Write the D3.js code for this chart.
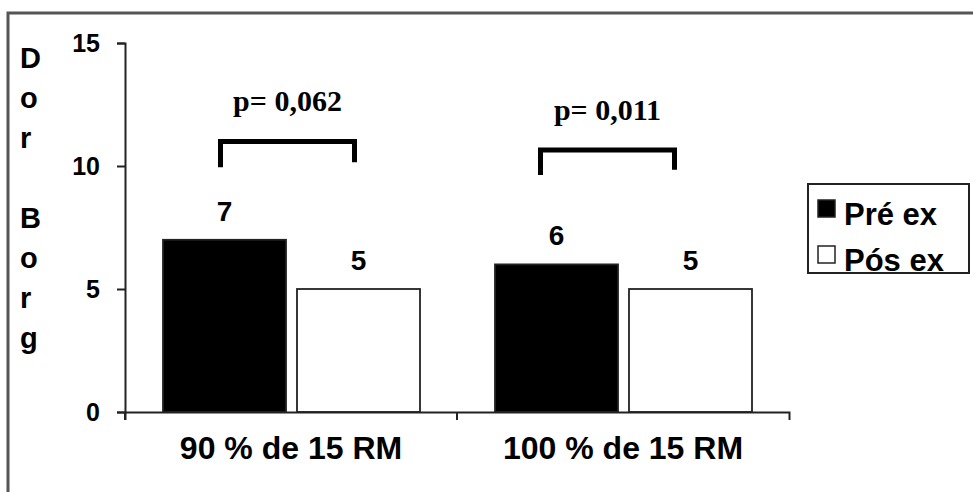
<!DOCTYPE html>
<html>
<head>
<meta charset="utf-8">
<script src="https://cdn.jsdelivr.net/npm/d3@7"></script>
<style>
    body { margin: 0; background: #fff; }
    svg { display: block; font-family: "Liberation Sans", Arial, sans-serif; font-weight: bold; }
</style>
</head>
<body>
<div id="chart"></div>
<script>
    // Dados do gráfico
    const categorias = ["90 % de 15 RM", "100 % de 15 RM"];
    const series = ["Pré ex", "Pós ex"];
    const preEx = [7, 6];
    const posEx = [5, 5];
    const yTicks = [0, 5, 10, 15];
    const yTitulo = ["D", "o", "r", "", "B", "o", "r", "g"];
    const pValores = ["p= 0,062", "p= 0,011"];
    const chaveTopo = [11.0, 10.65];      // altura da chave (unidades do eixo)
    const chavePernas = [[9.95, 10.15], [9.63, 9.85]];
    const chaveDesloc = [-4, -16];        // ajuste horizontal (px)

    const width = 973;
    const height = 492;
    const margin = { top: 43, left: 125, bottom: 80 };
    const plotRight = 789;

    const svg = d3.select("#chart")
        .append("svg")
        .attr("width", width)
        .attr("height", height);

    // Moldura externa
    svg.append("rect")
        .attr("x", 8).attr("y", 13)
        .attr("width", 980).attr("height", 500)
        .attr("fill", "none")
        .attr("stroke", "#555")
        .attr("stroke-width", 3);

    const y = d3.scaleLinear()
        .domain([0, 15])
        .range([412, margin.top]);

    const x = d3.scaleBand()
        .domain(categorias)
        .range([margin.left, plotRight])
        .padding(0);

    const xInner = d3.scaleBand()
        .domain(series)
        .range([38, x.bandwidth() - 37])
        .paddingInner(0.082)
        .paddingOuter(0);

    const dados = categorias.map((c, i) => ({
        categoria: c,
        valores: [
            { serie: series[0], valor: preEx[i] },
            { serie: series[1], valor: posEx[i] }
        ]
    }));

    const cor = d3.scaleOrdinal().domain(series).range(["#000", "#fff"]);

    // Barras
    const grupos = svg.selectAll(".grupo")
        .data(dados)
        .enter()
        .append("g")
        .attr("transform", d => `translate(${x(d.categoria)},0)`);

    grupos.selectAll("rect")
        .data(d => d.valores)
        .enter()
        .append("rect")
        .attr("x", d => xInner(d.serie))
        .attr("y", d => y(d.valor))
        .attr("width", xInner.bandwidth())
        .attr("height", d => y(0) - y(d.valor))
        .attr("fill", d => cor(d.serie))
        .attr("stroke", "#222")
        .attr("stroke-width", 1.8);

    grupos.selectAll(".rotulo")
        .data(d => d.valores)
        .enter()
        .append("text")
        .attr("x", d => xInner(d.serie) + xInner.bandwidth() / 2)
        .attr("y", d => y(d.valor) - 19)
        .attr("text-anchor", "middle")
        .attr("font-size", 28)
        .text(d => d.valor);

    // Eixo Y
    const eixoY = svg.append("g")
        .attr("transform", `translate(${margin.left},0)`)
        .call(d3.axisLeft(y).tickValues(yTicks).tickSize(8).tickPadding(17));
    eixoY.selectAll("text").attr("font-size", 25).attr("font-family", null).attr("fill", "#000");
    eixoY.selectAll("line, path").attr("stroke", "#222").attr("stroke-width", 2);
    eixoY.append("line")
        .attr("x1", 0).attr("x2", 0)
        .attr("y1", y(0)).attr("y2", y(0) + 8)
        .attr("stroke", "#222").attr("stroke-width", 2);

    // Eixo X
    const eixoX = svg.append("g")
        .attr("transform", `translate(0,${y(0)})`)
        .call(d3.axisBottom(x).tickSizeInner(0).tickSizeOuter(8).tickPadding(0));
    eixoX.selectAll("path").attr("stroke", "#222").attr("stroke-width", 2);
    eixoX.selectAll("text")
        .attr("font-size", 32)
        .attr("font-family", null)
        .attr("fill", "#000")
        .attr("dy", null)
        .attr("y", 47);
    eixoX.selectAll(".divisor")
        .data(categorias.slice(1))
        .enter()
        .append("line")
        .attr("x1", d => x(d)).attr("x2", d => x(d))
        .attr("y1", 0).attr("y2", 8)
        .attr("stroke", "#222").attr("stroke-width", 2);

    // Título do eixo Y (vertical, letra por letra)
    svg.append("g")
        .selectAll("text")
        .data(yTitulo)
        .enter()
        .append("text")
        .attr("x", 20)
        .attr("y", (d, i) => 68 + i * 40)
        .attr("font-size", 29)
        .text(d => d);

    // Chaves de significância
    categorias.forEach((c, i) => {
        const x1 = x(c) + xInner(series[0]) + xInner.bandwidth() / 2 + chaveDesloc[i];
        const x2 = x(c) + xInner(series[1]) + xInner.bandwidth() / 2 + chaveDesloc[i];
        const yt = y(chaveTopo[i]);
        svg.append("path")
            .attr("d", `M${x1},${y(chavePernas[i][0])}V${yt}H${x2}V${y(chavePernas[i][1])}`)
            .attr("fill", "none")
            .attr("stroke", "#000")
            .attr("stroke-width", 5);
        svg.append("text")
            .attr("x", (x1 + x2) / 2)
            .attr("y", yt - 30)
            .attr("text-anchor", "middle")
            .attr("font-family", "'Liberation Serif', 'Times New Roman', serif")
            .attr("font-size", 30)
            .text(pValores[i]);
    });

    // Legenda
    const legenda = svg.append("g").attr("transform", "translate(808,184)");
    legenda.append("rect")
        .attr("width", 161).attr("height", 89)
        .attr("fill", "#fff")
        .attr("stroke", "#222")
        .attr("stroke-width", 2);
    const itens = legenda.selectAll(".item")
        .data(series)
        .enter()
        .append("g")
        .attr("transform", (d, i) => `translate(10,${16 + i * 46})`);
    itens.append("rect")
        .attr("width", 17).attr("height", 17)
        .attr("fill", d => cor(d))
        .attr("stroke", "#222")
        .attr("stroke-width", 1.5);
    itens.append("text")
        .attr("x", 26)
        .attr("y", 25)
        .attr("font-size", 31)
        .text(d => d);
</script>
</body>
</html>
